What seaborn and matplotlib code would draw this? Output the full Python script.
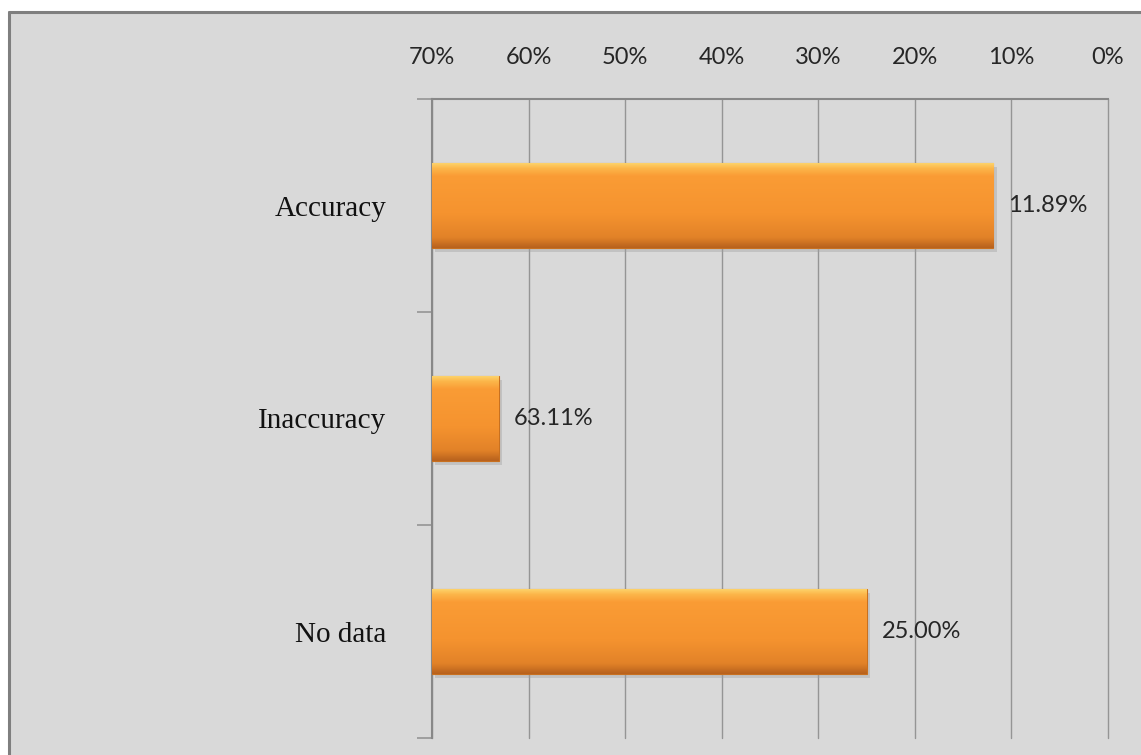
import matplotlib
matplotlib.use('Agg')
import matplotlib.pyplot as plt
from matplotlib.patches import Rectangle
from matplotlib.lines import Line2D
from matplotlib.colors import LinearSegmentedColormap
import numpy as np
import seaborn as sns

categories = ['Accuracy', 'Inaccuracy', 'No data']
values = [11.89, 63.11, 25.00]
ticks = [0, 10, 20, 30, 40, 50, 60, 70]
tick_labels = ['0%', '10%', '20%', '30%', '40%', '50%', '60%', '70%']
axis_max = 70

bg = '#d9d9d9'
grid_col = '#959595'
txt_col = '#262626'

sns.set_theme(style='white')
plt.rcParams['font.family'] = ['Lato', 'DejaVu Sans']

fig = plt.figure(figsize=(11.41, 7.55), dpi=100)
fig.patch.set_facecolor('white')

# chart area background with border (top / left visible)
x0 = 9 / 1141
y1 = 1 - 12 / 755
fig.patches.append(Rectangle((x0, 0), 1 - x0, y1, transform=fig.transFigure,
                             facecolor=bg, edgecolor='none', zorder=-10))
fig.lines.append(Line2D([x0, x0], [0, y1], transform=fig.transFigure,
                        color='#7f7f7f', lw=2.2))
fig.lines.append(Line2D([x0, 1], [y1, y1], transform=fig.transFigure,
                        color='#7f7f7f', lw=2.2))

ax = fig.add_axes([432 / 1141, 1 - 738 / 755, (1108 - 432) / 1141, (738 - 99) / 755])
ax.set_facecolor(bg)

sns.barplot(x=values, y=categories, orient='h', color='#f7941d', saturation=1,
            width=0.4, ax=ax, zorder=3)

# bevel-like gradient for the bars
grad = LinearSegmentedColormap.from_list('bev', [
    (0.0, '#fdd770'), (0.07, '#fcb64a'), (0.16, '#fa9c35'),
    (0.6, '#f5932f'), (0.88, '#e28228'), (1.0, '#b8621d')])
g = np.linspace(0, 1, 200).reshape(-1, 1)

for p, v in zip(ax.patches, values):
    p.set_x(v)
    p.set_width(axis_max - v)
    p.set_edgecolor('#c8701f')
    p.set_linewidth(0.8)
    yb = p.get_y()
    h = p.get_height()
    # soft shadow
    ax.add_patch(Rectangle((v - 0.35, yb + 0.02), axis_max - v, h,
                           facecolor='#a0a0a0', alpha=0.4, edgecolor='none', zorder=2))
    im = ax.imshow(g, cmap=grad, aspect='auto', interpolation='bilinear',
                   extent=(axis_max, v, yb + h, yb), zorder=4)
    im.set_clip_path(p)
    ax.annotate(f'{v:.2f}%', (v, yb + h / 2), xytext=(11, 0), textcoords='offset points',
                ha='left', va='center', fontsize=17, color=txt_col, zorder=5)

ax.set_xlim(axis_max, 0)
ax.set_ylim(2.5, -0.5)
ax.set_xticks(ticks)
ax.set_xticklabels(tick_labels)
ax.xaxis.tick_top()
ax.tick_params(axis='x', length=0, pad=22, labelsize=17, labelcolor=txt_col)
ax.grid(axis='x', color=grid_col, lw=1.0, zorder=0)
for gl in ax.get_xgridlines():
    gl.set_clip_on(False)
ax.set_axisbelow(True)

ax.set_yticks([0, 1, 2])
ax.set_yticklabels(categories, family=['Liberation Serif', 'DejaVu Serif'],
                   fontsize=21, color='#111111')
ax.set_yticks([-0.5, 0.5, 1.5, 2.5], minor=True)
ax.tick_params(axis='y', which='major', length=0, pad=33)
ax.tick_params(axis='y', which='minor', length=11, width=1.2, color=grid_col, left=True)
ax.set_xlabel('')
ax.set_ylabel('')

for s in ['right', 'bottom']:
    ax.spines[s].set_visible(False)
for s in ['top', 'left']:
    ax.spines[s].set_color('#888888')
    ax.spines[s].set_linewidth(1.5)

fig.savefig('out.png', dpi=100, facecolor=fig.get_facecolor())
